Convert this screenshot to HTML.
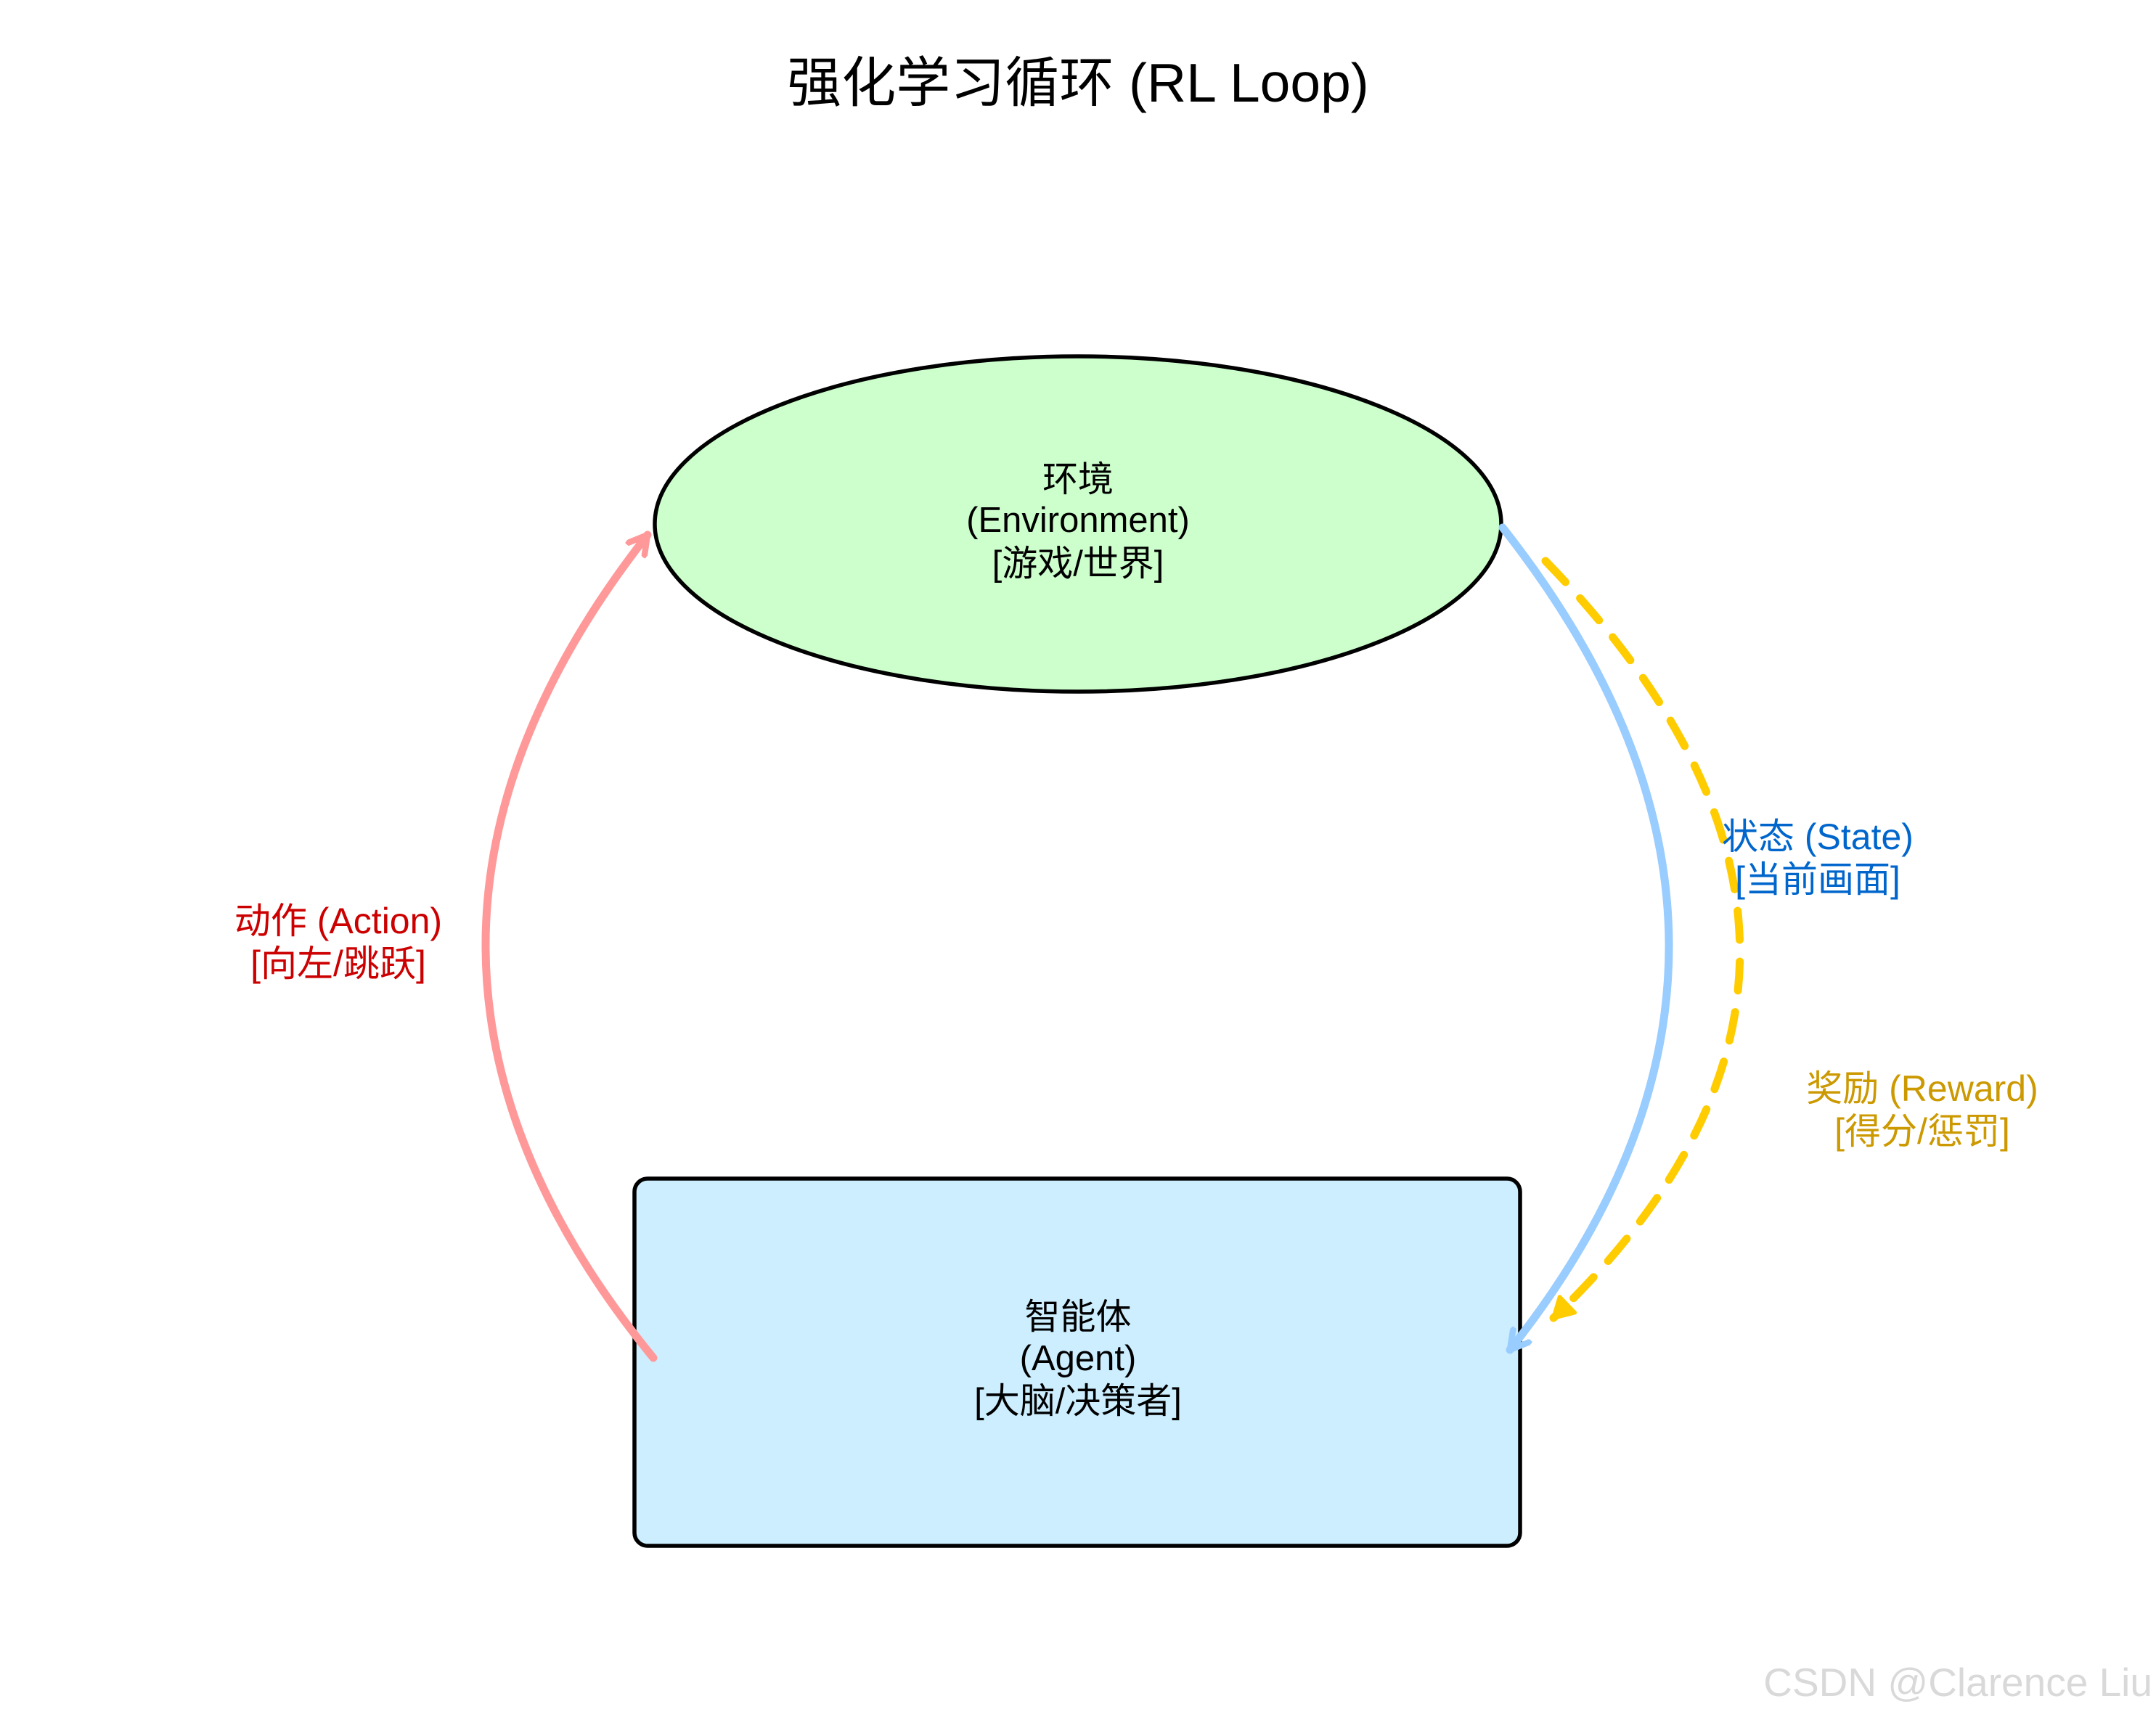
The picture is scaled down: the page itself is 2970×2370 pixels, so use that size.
<!DOCTYPE html>
<html><head><meta charset="utf-8"><style>
html,body{margin:0;padding:0;background:#fff;}
svg{display:block;}
text{font-family:"Liberation Sans","Noto Sans CJK SC",sans-serif;}
</style></head><body>
<svg width="2970" height="2370" viewBox="0 0 2970 2370" xmlns="http://www.w3.org/2000/svg">
<defs>
<marker id="mr" viewBox="0 0 10 10" refX="8" refY="5" markerWidth="3.2" markerHeight="3.2" orient="auto" markerUnits="strokeWidth">
<path d="M1,1 L8,5 L1,9" fill="none" stroke="#ff9999" stroke-width="2.4" stroke-linecap="round" stroke-linejoin="round"/></marker>
<marker id="mb" viewBox="0 0 10 10" refX="8" refY="5" markerWidth="3.2" markerHeight="3.2" orient="auto" markerUnits="strokeWidth">
<path d="M1,1 L8,5 L1,9" fill="none" stroke="#99ccff" stroke-width="2.4" stroke-linecap="round" stroke-linejoin="round"/></marker>
<marker id="my" viewBox="0 0 10 10" refX="8" refY="5" markerWidth="3.4" markerHeight="3.4" orient="auto" markerUnits="strokeWidth">
<path d="M1,1 L8,5 L1,9 Z" fill="#ffcc00" stroke="#ffcc00" stroke-width="1.5" stroke-linejoin="round"/></marker>
</defs>
<text x="1485" y="140" font-size="75" text-anchor="middle" fill="#000">强化学习循环 (RL Loop)</text>
<ellipse cx="1485" cy="722" rx="583" ry="231" fill="#ccffcc" stroke="#000" stroke-width="5.5"/>
<g font-size="49" text-anchor="middle" fill="#000">
<text x="1485" y="677">环境</text>
<text x="1485" y="733">(Environment)</text>
<text x="1485" y="793">[游戏/世界]</text>
</g>
<rect x="874" y="1624" width="1220" height="506" rx="18" fill="#cceeff" stroke="#000" stroke-width="5.5"/>
<g font-size="49" text-anchor="middle" fill="#000">
<text x="1485" y="1831">智能体</text>
<text x="1485" y="1888">(Agent)</text>
<text x="1485" y="1947">[大脑/决策者]</text>
</g>
<path d="M900,1871 Q442,1311 892,737" fill="none" stroke="#ff9999" stroke-width="11" stroke-linecap="round" marker-end="url(#mr)"/>
<path d="M2070,727 Q2523,1302 2080,1860" fill="none" stroke="#99ccff" stroke-width="11" stroke-linecap="round" marker-end="url(#mb)"/>
<path d="M2129,773 Q2659,1319 2140,1816" fill="none" stroke="#ffcc00" stroke-width="11" stroke-linecap="round" stroke-dasharray="40 30" marker-end="url(#my)"/>
<g font-size="50" text-anchor="middle">
<text x="466" y="1286" fill="#cc0000">动作 (Action)</text>
<text x="466" y="1345" fill="#cc0000">[向左/跳跃]</text>
<text x="2504" y="1170" fill="#0066cc">状态 (State)</text>
<text x="2504" y="1229" fill="#0066cc">[当前画面]</text>
<text x="2648" y="1517" fill="#cc9900">奖励 (Reward)</text>
<text x="2648" y="1576" fill="#cc9900">[得分/惩罚]</text>
</g>
<text x="2965" y="2337" font-size="55" text-anchor="end" fill="#d9d9d9">CSDN @Clarence Liu</text>
</svg>
</body></html>
